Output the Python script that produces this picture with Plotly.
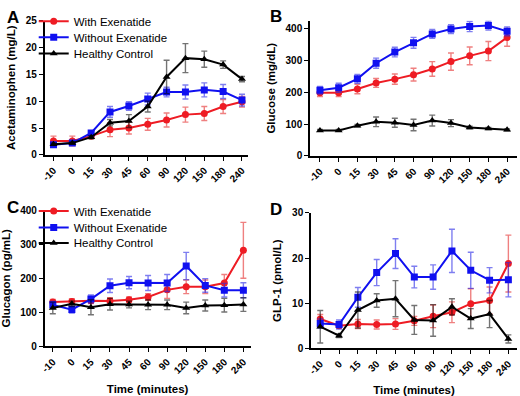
import plotly.graph_objects as go

times = ["-10", "0", "15", "30", "45", "60", "90", "120", "150", "180", "240"]

# Panel A: Acetaminophen (mg/L)
a_with = [2.6, 2.6, 3.5, 4.7, 5.0, 5.7, 6.5, 7.5, 7.7, 9.0, 9.9]
a_with_err = [0.9, 0.9, 0.4, 1.3, 1.1, 1.1, 1.3, 1.4, 1.3, 1.3, 1.0]
a_without = [1.9, 2.2, 4.1, 8.0, 9.1, 10.4, 11.7, 11.7, 12.1, 11.8, 10.2]
a_without_err = [0.3, 0.3, 0.4, 1.0, 0.8, 1.1, 0.9, 1.3, 1.3, 1.3, 1.1]
a_healthy = [2.0, 2.2, 3.3, 6.0, 6.3, 9.0, 14.5, 18.0, 17.8, 16.8, 14.1]
a_healthy_err = [0.2, 0.2, 0.3, 0.6, 1.2, 1.0, 3.1, 2.7, 1.5, 0.7, 0.5]

# Panel B: Glucose (mg/dL)
b_with = [198, 198, 210, 229, 241, 255, 273, 296, 314, 329, 372]
b_with_err = [12, 12, 15, 14, 16, 20, 23, 27, 28, 30, 28]
b_without = [206, 214, 242, 291, 326, 355, 383, 398, 406, 409, 391]
b_without_err = [12, 14, 14, 16, 15, 17, 14, 14, 16, 14, 14]
b_healthy = [80, 80, 95, 107, 104, 97, 111, 103, 89, 86, 82]
b_healthy_err = [3, 3, 4, 15, 14, 18, 17, 11, 4, 3, 3]

# Panel C: Glucagon (pg/mL)
c_with = [130, 132, 134, 133, 137, 145, 166, 175, 175, 186, 282]
c_with_err = [8, 8, 8, 10, 8, 10, 25, 20, 20, 25, 82]
c_without = [122, 108, 139, 178, 187, 186, 186, 236, 179, 165, 165]
c_without_err = [10, 10, 12, 20, 18, 22, 25, 40, 20, 20, 22]
c_healthy = [113, 125, 115, 124, 123, 122, 122, 113, 120, 121, 123]
c_healthy_err = [17, 8, 22, 17, 10, 14, 14, 17, 16, 20, 20]

# Panel D: GLP-1 (pmol/L)
d_with = [6.5, 5.0, 5.4, 5.3, 5.4, 6.1, 7.1, 8.0, 9.9, 10.6, 18.8]
d_with_err = [1.0, 0.5, 1.0, 1.0, 1.2, 1.0, 2.5, 2.3, 3.3, 3.0, 6.3]
d_without = [5.5, 5.3, 11.3, 16.8, 21.0, 15.8, 15.8, 21.6, 17.3, 15.1, 15.2]
d_without_err = [1.0, 1.0, 2.2, 2.9, 3.3, 2.4, 2.7, 4.8, 4.0, 2.8, 3.8]
d_healthy = [4.8, 2.8, 8.5, 10.6, 11.0, 6.3, 6.2, 9.2, 6.6, 7.6, 2.1]
d_healthy_err = [3.6, 0.4, 4.0, 1.5, 4.0, 3.2, 3.5, 1.8, 2.2, 3.0, 0.9]

series_names = ["With Exenatide", "Without Exenatide", "Healthy Control"]

FONT = "Liberation Sans, Arial, sans-serif"
RED = "#ee1c24"
BLUE = "#1010f0"
BLACK = "#000000"
RED_E = "rgba(230,60,60,0.65)"
BLUE_E = "rgba(40,40,230,0.6)"
BLACK_E = "rgba(0,0,0,0.55)"

styles = [
    dict(color=RED, ecolor=RED_E, symbol="circle", size=7),
    dict(color=BLUE, ecolor=BLUE_E, symbol="square", size=7),
    dict(color=BLACK, ecolor=BLACK_E, symbol="triangle-up", size=7),
]

panels = [
    dict(data=[(a_with, a_with_err), (a_without, a_without_err), (a_healthy, a_healthy_err)],
         xa="x", ya="y", legends=["legend", "legend2", "legend3"], show=True),
    dict(data=[(b_with, b_with_err), (b_without, b_without_err), (b_healthy, b_healthy_err)],
         xa="x2", ya="y2", legends=["legend", "legend2", "legend3"], show=False),
    dict(data=[(c_with, c_with_err), (c_without, c_without_err), (c_healthy, c_healthy_err)],
         xa="x3", ya="y3", legends=["legend4", "legend5", "legend6"], show=True),
    dict(data=[(d_with, d_with_err), (d_without, d_without_err), (d_healthy, d_healthy_err)],
         xa="x4", ya="y4", legends=["legend4", "legend5", "legend6"], show=False),
]

fig = go.Figure()
for p in panels:
    for name, (vals, errs), st, lg in zip(series_names, p["data"], styles, p["legends"]):
        fig.add_trace(go.Scatter(
            x=times, y=vals, name=name, mode="lines+markers",
            xaxis=p["xa"], yaxis=p["ya"], legend=lg, showlegend=p["show"],
            line=dict(color=st["color"], width=2),
            marker=dict(color=st["color"], symbol=st["symbol"], size=st["size"]),
            error_y=dict(type="data", array=errs, visible=True, color=st["ecolor"],
                         thickness=1.4, width=3),
        ))

tickfont = dict(family=FONT, size=10, color="black", weight="bold")
titlefont = dict(family=FONT, size=11.5, color="black", weight="bold")


def xaxis(domain, rng, anchor, title=None):
    d = dict(domain=domain, range=rng, anchor=anchor, type="category",
             showline=True, linecolor="black", linewidth=1.6,
             ticks="outside", ticklen=4, tickwidth=1.4, tickcolor="black",
             tickangle=-45, tickfont=tickfont, showgrid=False, zeroline=False)
    if title:
        d["title"] = dict(text=title, font=titlefont, standoff=10)
    return d


def yaxis(domain, rng, dtick, anchor, title):
    return dict(domain=domain, range=rng, anchor=anchor, dtick=dtick,
                showline=True, linecolor="black", linewidth=1.6,
                ticks="outside", ticklen=4, tickwidth=1.4, tickcolor="black",
                tickfont=tickfont, showgrid=False, zeroline=False,
                title=dict(text=title, font=titlefont, standoff=8))


W, H = 520, 396


def leg(center_y):
    return dict(x=29 / W, y=1 - (center_y - 15) / H, xanchor="left", yanchor="top",
                bgcolor="rgba(0,0,0,0)", font=dict(family=FONT, size=11.5, color="black"),
                itemwidth=30)


fig.update_layout(
    width=W, height=H,
    margin=dict(l=0, r=0, t=0, b=0),
    paper_bgcolor="white", plot_bgcolor="white",
    font=dict(family=FONT, color="black"),
    xaxis=xaxis([40 / W, 245 / W], [-0.47, 10.3], "y"),
    yaxis=yaxis([1 - 154 / H, 1 - 15 / H], [0, 25], 5, "x", "Acetaminophen (mg/L)"),
    xaxis2=xaxis([308 / W, 517 / W], [-0.53, 10.53], "y2"),
    yaxis2=yaxis([1 - 155 / H, 1 - 15 / H], [0, 425], 100, "x2", "Glucose (mg/dL)"),
    xaxis3=xaxis([40 / W, 248 / W], [-0.43, 10.38], "y3", "Time (minutes)"),
    yaxis3=yaxis([1 - 352 / H, 1 - 211 / H], [0, 400], 100, "x3", "Glucagon (pg/mL)"),
    xaxis4=xaxis([309 / W, 517 / W], [-0.49, 10.46], "y4", "Time (minutes)"),
    yaxis4=yaxis([1 - 354 / H, 1 - 214 / H], [0, 30], 10, "x4", "GLP-1 (pmol/L)"),
    legend=leg(15.7), legend2=leg(32.3), legend3=leg(49),
    legend4=leg(212), legend5=leg(229), legend6=leg(245),
    showlegend=True,
)

for letter, px, py in [("A", 0, 0), ("B", 266, -1), ("C", 0, 196), ("D", 266, 199)]:
    fig.add_annotation(text=letter, x=px / W, y=1 - py / H, xref="paper", yref="paper",
                       xanchor="left", yanchor="top", showarrow=False,
                       font=dict(family=FONT, size=17, color="black", weight="bold"))

fig.write_html("out.html", config={"displayModeBar": False},
               post_script="document.body.style.margin='0';")
